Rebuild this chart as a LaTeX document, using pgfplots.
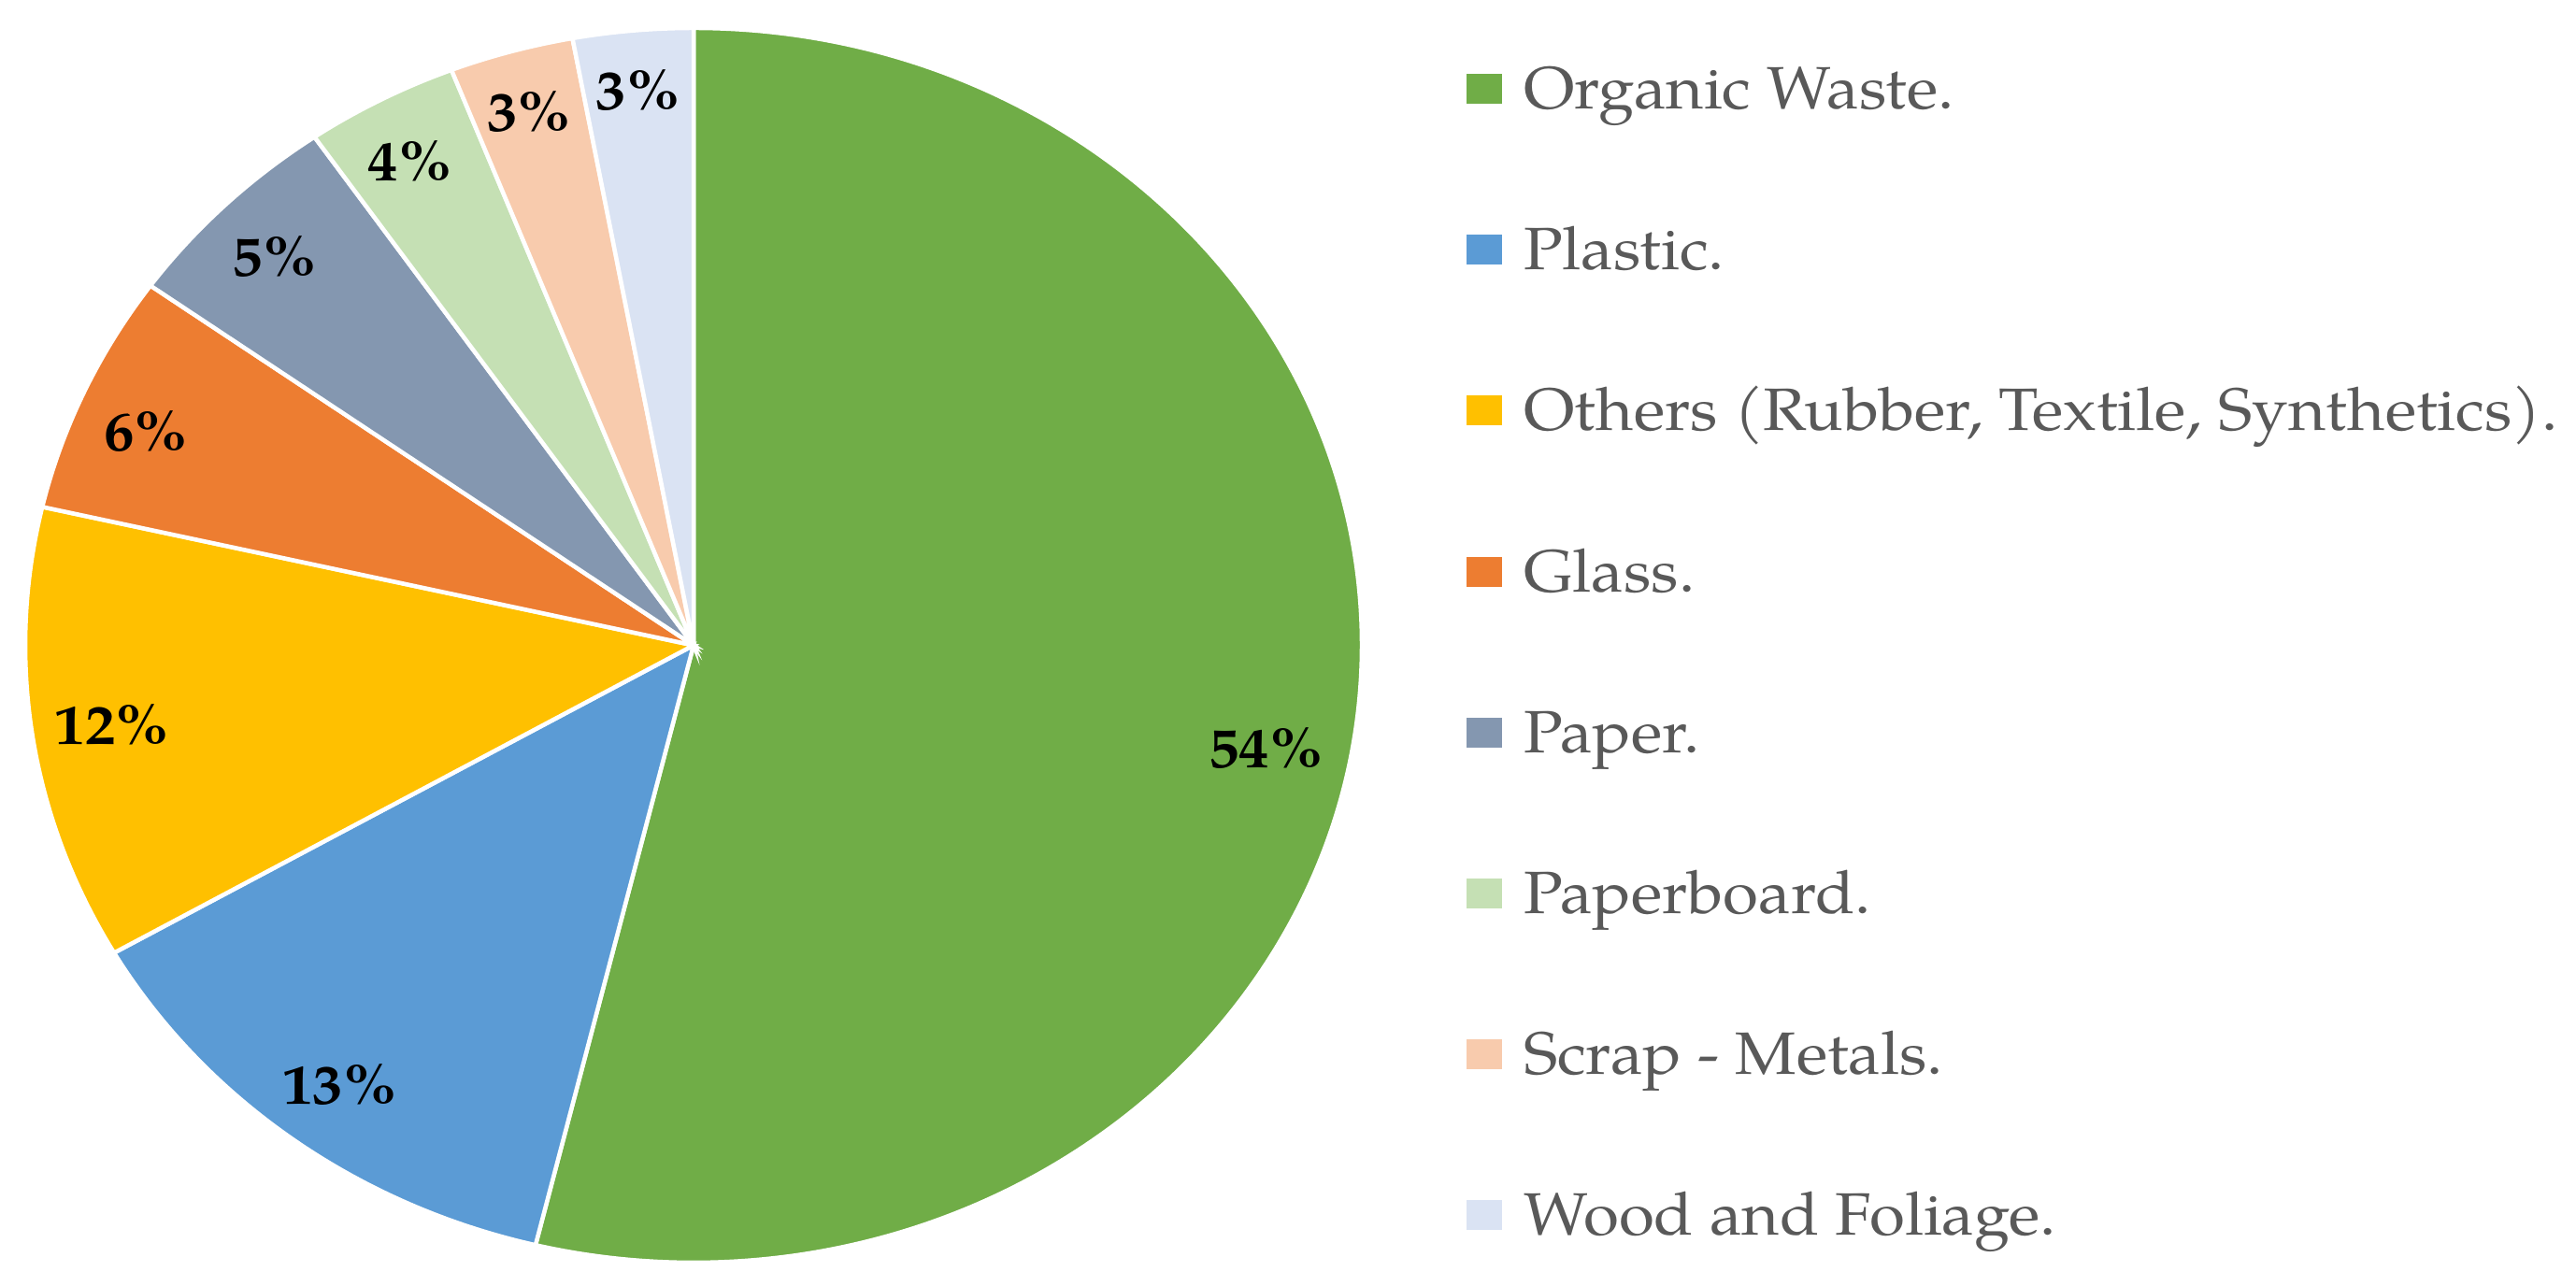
\documentclass[border=0pt]{standalone}
\usepackage{pgfplots}
\pgfplotsset{compat=1.18}
\usepackage{fontspec}
\setmainfont{TeX Gyre Pagella}[FakeStretch=1.08]
\definecolor{cOrganic}{HTML}{70AD47}
\definecolor{cPlastic}{HTML}{5B9BD5}
\definecolor{cOthers}{HTML}{FFC000}
\definecolor{cGlass}{HTML}{ED7D31}
\definecolor{cPaper}{HTML}{8497B0}
\definecolor{cBoard}{HTML}{C5E0B4}
\definecolor{cScrap}{HTML}{F8CBAD}
\definecolor{cWood}{HTML}{DAE3F3}
\definecolor{legendgray}{HTML}{595959}

\begin{document}
\begin{tikzpicture}
\useasboundingbox (0,0) rectangle (551.2pt,275.2pt);
\begin{axis}[hide axis, scale only axis,
  width=286pt, height=264.2pt,
  xmin=-1, xmax=1, ymin=-1, ymax=1,
  anchor=center, at={(148.4pt,137.1pt)}, clip=false]
% shares in percent, clockwise from 12 o'clock
\xdef\angS{90}
\foreach \v/\c in {53.8/cOrganic, 12.9/cPlastic, 11.9/cOthers, 6.3/cGlass, 5.5/cPaper, 3.7/cBoard, 3.0/cScrap, 2.9/cWood} {
  \pgfmathsetmacro\angE{\angS-3.6*\v}
  \edef\temp{\noexpand\fill[\c, draw=white, line width=0.9pt] (axis cs:0,0) -- (axis cs:{cos(\angS)},{sin(\angS)}) arc[start angle=\angS, end angle=\angE, x radius=143pt, y radius=132.1pt] -- cycle;}
  \temp
  \global\let\angS\angE
}
\begin{scope}[every node/.style={font=\bfseries\fontsize{12}{14}\selectfont, text=black}]
\node at (axis cs:0.857,-0.166) {54\%};
\node at (axis cs:-0.529,-0.711) {13\%};
\node at (axis cs:-0.870,-0.128) {12\%};
\node at (axis cs:-0.819,0.346) {6\%};
\node at (axis cs:-0.627,0.629) {5\%};
\node at (axis cs:-0.424,0.784) {4\%};
\node at (axis cs:-0.246,0.864) {3\%};
\node at (axis cs:-0.083,0.899) {3\%};
\end{scope}
\end{axis}
% legend
\foreach \i/\c/\t in {0/cOrganic/Organic Waste., 1/cPlastic/Plastic., 2/cOthers/{Others (Rubber, Textile, Synthetics).}, 3/cGlass/Glass., 4/cPaper/Paper., 5/cBoard/Paperboard., 6/cScrap/Scrap - Metals., 7/cWood/Wood and Foliage.} {
  \pgfmathsetmacro\yc{256.2-34.44*\i}
  \fill[\c] (313.8pt,{\yc pt-3.2pt}) rectangle ++(7.6pt,6.4pt);
  \node[anchor=base west, inner sep=0pt, text=legendgray, font=\fontsize{12.8}{15}\selectfont] at (325.8pt,{\yc pt-4.3pt}) {\t};
}
\end{tikzpicture}
\end{document}
